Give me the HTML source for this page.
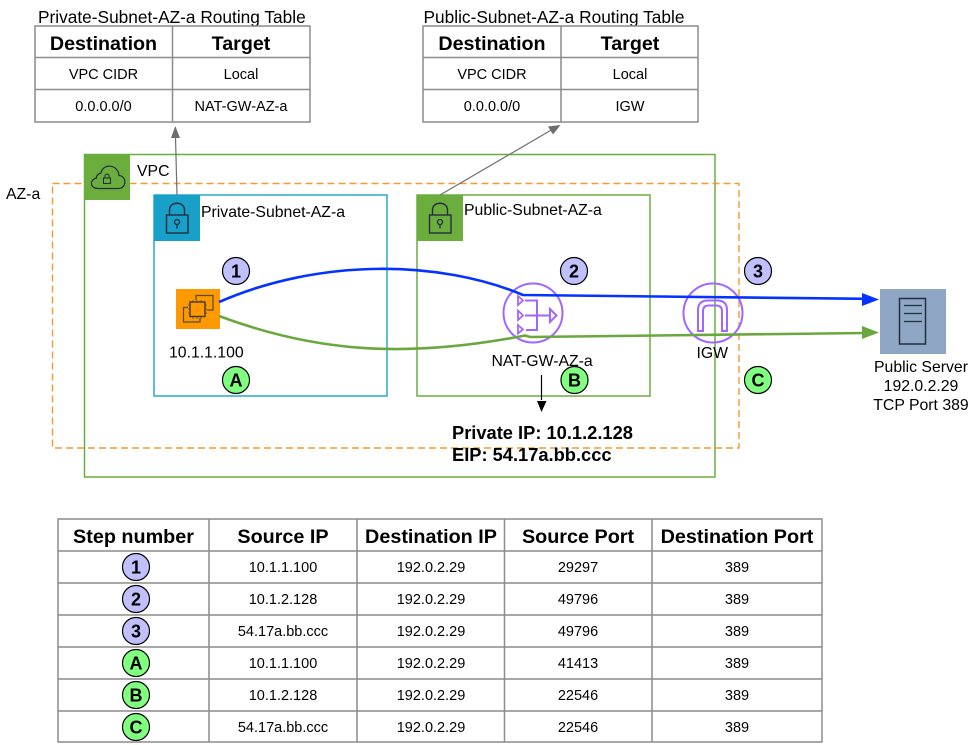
<!DOCTYPE html>
<html>
<head>
<meta charset="utf-8">
<style>
html,body{margin:0;padding:0;background:#fff;}
svg{display:block;}
text{font-family:"Liberation Sans",sans-serif;fill:#000;}
.t{font-size:17.300px;}
.s{font-size:14.500px;text-anchor:middle;}
.l{font-size:15.800px;}
.h{font-size:19.700px;font-weight:bold;text-anchor:middle;}
.h2{font-size:19.800px;font-weight:bold;text-anchor:middle;}
.c{font-size:18px;font-weight:bold;text-anchor:middle;}
.g{stroke:#8c8c8c;stroke-width:1.500;fill:none;}
</style>
</head>
<body>
<svg width="977" height="745" viewBox="0 0 977 745" xmlns="http://www.w3.org/2000/svg">
<defs>
<symbol id="lock" viewBox="0 0 46 46" overflow="visible">
<path d="M15.500 20V15C15.500 6 30.500 6 30.500 15V20" fill="none" stroke="#232f3e" stroke-width="1.400"/>
<rect x="12.500" y="20" width="21.500" height="18" fill="none" stroke="#232f3e" stroke-width="1.400"/>
<circle cx="23" cy="27" r="2.500" fill="none" stroke="#232f3e" stroke-width="1.300"/>
<path d="M23 29.500V33.500" stroke="#232f3e" stroke-width="1.300"/>
</symbol>
</defs>

<!-- VPC and AZ -->
<rect x="84.500" y="154.500" width="630.500" height="322.500" fill="none" stroke="#6aae3f" stroke-width="1.500"/>
<rect x="52.500" y="183.500" width="686.500" height="264.500" fill="none" stroke="#f79a2e" stroke-width="1.400" stroke-dasharray="7 4"/>
<rect x="85" y="155" width="45" height="45" fill="#6cae3e"/>
<path d="M98 188.500H118C127 188.500 127 176 119 175.500C118 164 103 163 101 173C97 174 96 177 96.500 178C89 180 90 188.500 98 188.500Z" fill="none" stroke="#232f3e" stroke-width="1.200"/>
<rect x="103.500" y="178" width="7" height="5.500" fill="none" stroke="#232f3e" stroke-width="1.100"/>
<path d="M105 178V176C105 173.500 109 173.500 109 176V178" fill="none" stroke="#232f3e" stroke-width="1.100"/>
<text class="l" x="137" y="176">VPC</text>
<text class="l" x="6" y="199">AZ-a</text>

<!-- Subnets -->
<rect x="154" y="195" width="233" height="201" fill="none" stroke="#2aa9c9" stroke-width="1.500"/>
<rect x="154" y="195" width="46" height="46" fill="#18a0c8"/>
<use href="#lock" x="154" y="195" width="46" height="46"/>
<text class="l" x="201" y="217">Private-Subnet-AZ-a</text>
<rect x="417" y="195" width="233" height="201" fill="none" stroke="#6aae3f" stroke-width="1.500"/>
<rect x="417" y="195" width="46" height="46" fill="#6cae3e"/>
<use href="#lock" x="417" y="195" width="46" height="46"/>
<text class="l" x="464" y="215">Public-Subnet-AZ-a</text>

<!-- Route table links -->
<path d="M177 195L175.500 137" stroke="#6e6e6e" stroke-width="1.200" fill="none"/>
<path d="M175.300 126L171 138H180Z" fill="#6e6e6e"/>
<path d="M440 195L553 129" stroke="#6e6e6e" stroke-width="1.200" fill="none"/>
<path d="M560.500 125L548 126.500L553 134.500Z" fill="#6e6e6e"/>

<!-- Routing table left -->
<text class="t" x="38" y="23">Private-Subnet-AZ-a Routing Table</text>
<rect x="35" y="26" width="275" height="96" class="g"/>
<path d="M172.500 26V122M35 57.500H310M35 89.500H310" class="g"/>
<text class="h" x="103.500" y="50">Destination</text>
<text class="h" x="241" y="50">Target</text>
<text class="s" x="103.500" y="79">VPC CIDR</text>
<text class="s" x="241" y="79">Local</text>
<text class="s" x="103.500" y="111">0.0.0.0/0</text>
<text class="s" x="241" y="111">NAT-GW-AZ-a</text>

<!-- Routing table right -->
<text class="t" x="423.500" y="23">Public-Subnet-AZ-a Routing Table</text>
<rect x="423" y="26" width="275" height="96" class="g"/>
<path d="M561 26V122M423 57.500H698M423 89.500H698" class="g"/>
<text class="h" x="492" y="50">Destination</text>
<text class="h" x="630" y="50">Target</text>
<text class="s" x="492" y="79">VPC CIDR</text>
<text class="s" x="630" y="79">Local</text>
<text class="s" x="492" y="111">0.0.0.0/0</text>
<text class="s" x="630" y="111">IGW</text>

<!-- EC2 -->
<rect x="176" y="289" width="44" height="40" fill="#f90"/>
<g fill="none" stroke="#5a4a32" stroke-width="1.200">
<path d="M196 300V295.500H213V310H207"/>
<path d="M188 307.500H183.500V322H200V318"/>
<rect x="190" y="302" width="15" height="14.500" stroke-width="1.400" stroke="#3a3a32"/>
<path d="M193 300V302M197 300V302M201 300V302M193 317V319M197 317V319M201 317V319M188 305H190M188 309H190M188 313H190M205 305H207M205 309H207M205 313H207" stroke-width="0.800"/>
</g>
<text class="l" x="169" y="357.500">10.1.1.100</text>

<!-- NAT -->
<g fill="none" stroke="#a166ff" stroke-width="2">
<circle cx="533" cy="313" r="29.500"/>
<path d="M518 296L523 300.500L518 305ZM518 310.500L523 315.500L518 320ZM518 325L523 329.500L518 333.500Z" stroke-width="1.800"/>
<path d="M525 300.500H537V330H526M525 315.500H550"/>
<path d="M550 309L556.500 315.500L550 322Z"/>
</g>
<text class="l" x="491.500" y="366">NAT-GW-AZ-a</text>

<!-- IGW -->
<g fill="none" stroke="#a166ff" stroke-width="2">
<circle cx="713" cy="313" r="29.500"/>
<path d="M698 331V310Q698 300.500 708 300.500H717Q727 300.500 727 310V331H722V311Q722 305.500 716 305.500H709Q703 305.500 703 311V331Z"/>
</g>
<text class="l" x="696.500" y="358">IGW</text>

<!-- Traffic curves -->
<path d="M219 302C320 258 440 260 523 295L866 298.800" fill="none" stroke="#0433ff" stroke-width="2.600"/>
<path d="M879 299.500L862 293V306Z" fill="#0433ff"/>
<path d="M219 316C310 350 400 360 525 335.500L530 337L866 333" fill="none" stroke="#6aa83f" stroke-width="2.600"/>
<path d="M879 332.500L862 326V339Z" fill="#6aa83f"/>

<!-- Server -->
<rect x="880" y="289" width="66" height="65" fill="#8fa7c4"/>
<rect x="899.500" y="298.500" width="26" height="45.500" fill="none" stroke="#232f3e" stroke-width="1.500"/>
<path d="M904 305.500H922M904 313.500H922M904 321.500H922" stroke="#232f3e" stroke-width="1.300"/>
<text class="l" text-anchor="middle" x="921" y="372">Public Server</text>
<text class="l" text-anchor="middle" x="921" y="391">192.0.2.29</text>
<text class="l" text-anchor="middle" x="921" y="410">TCP Port 389</text>

<!-- NAT note -->
<path d="M541.500 375V400" stroke="#000" stroke-width="1.200"/>
<path d="M541.500 412L537 401H546.500Z" fill="#000"/>
<text x="452" y="439" style="font-size:18.300px;font-weight:bold">Private IP: 10.1.2.128</text>
<text x="452" y="461" style="font-size:18.300px;font-weight:bold">EIP: 54.17a.bb.ccc</text>

<!-- Diagram markers -->
<g stroke="#000" stroke-width="1.200">
<circle cx="236" cy="271" r="13.500" fill="#c0c0ff"/>
<circle cx="574" cy="271" r="13.500" fill="#c0c0ff"/>
<circle cx="758" cy="271" r="13.500" fill="#c0c0ff"/>
<circle cx="236" cy="380" r="13.500" fill="#80ff80"/>
<circle cx="574.500" cy="380" r="13.500" fill="#80ff80"/>
<circle cx="758" cy="380" r="13.500" fill="#80ff80"/>
</g>
<text class="c" x="236" y="277.500">1</text>
<text class="c" x="574" y="277.500">2</text>
<text class="c" x="758" y="277.500">3</text>
<text class="c" x="236" y="386.500">A</text>
<text class="c" x="574.500" y="386.500">B</text>
<text class="c" x="758" y="386.500">C</text>

<!-- Bottom table -->
<rect x="58" y="519" width="764" height="223" class="g"/>
<path d="M209 519V742M357 519V742M504.500 519V742M652 519V742M58 551H822M58 583H822M58 615H822M58 647H822M58 679H822M58 711H822" class="g"/>
<text class="h2" x="133.500" y="543">Step number</text>
<text class="h2" x="283" y="543">Source IP</text>
<text class="h2" x="431" y="543">Destination IP</text>
<text class="h2" x="578" y="543">Source Port</text>
<text class="h2" x="737" y="543">Destination Port</text>

<g stroke="#000" stroke-width="1.200">
<circle cx="136" cy="567" r="13.500" fill="#c0c0ff"/>
<circle cx="136" cy="599" r="13.500" fill="#c0c0ff"/>
<circle cx="136" cy="631" r="13.500" fill="#c0c0ff"/>
<circle cx="136" cy="663" r="13.500" fill="#80ff80"/>
<circle cx="136" cy="695" r="13.500" fill="#80ff80"/>
<circle cx="136" cy="727" r="13.500" fill="#80ff80"/>
</g>
<text class="c" x="136" y="573.500">1</text>
<text class="c" x="136" y="605.500">2</text>
<text class="c" x="136" y="637.500">3</text>
<text class="c" x="136" y="669.500">A</text>
<text class="c" x="136" y="701.500">B</text>
<text class="c" x="136" y="733.500">C</text>

<text class="s" x="283" y="572">10.1.1.100</text><text class="s" x="431" y="572">192.0.2.29</text><text class="s" x="578" y="572">29297</text><text class="s" x="737" y="572">389</text>
<text class="s" x="283" y="604">10.1.2.128</text><text class="s" x="431" y="604">192.0.2.29</text><text class="s" x="578" y="604">49796</text><text class="s" x="737" y="604">389</text>
<text class="s" x="283" y="636">54.17a.bb.ccc</text><text class="s" x="431" y="636">192.0.2.29</text><text class="s" x="578" y="636">49796</text><text class="s" x="737" y="636">389</text>
<text class="s" x="283" y="668">10.1.1.100</text><text class="s" x="431" y="668">192.0.2.29</text><text class="s" x="578" y="668">41413</text><text class="s" x="737" y="668">389</text>
<text class="s" x="283" y="700">10.1.2.128</text><text class="s" x="431" y="700">192.0.2.29</text><text class="s" x="578" y="700">22546</text><text class="s" x="737" y="700">389</text>
<text class="s" x="283" y="732">54.17a.bb.ccc</text><text class="s" x="431" y="732">192.0.2.29</text><text class="s" x="578" y="732">22546</text><text class="s" x="737" y="732">389</text>
</svg>
</body>
</html>
